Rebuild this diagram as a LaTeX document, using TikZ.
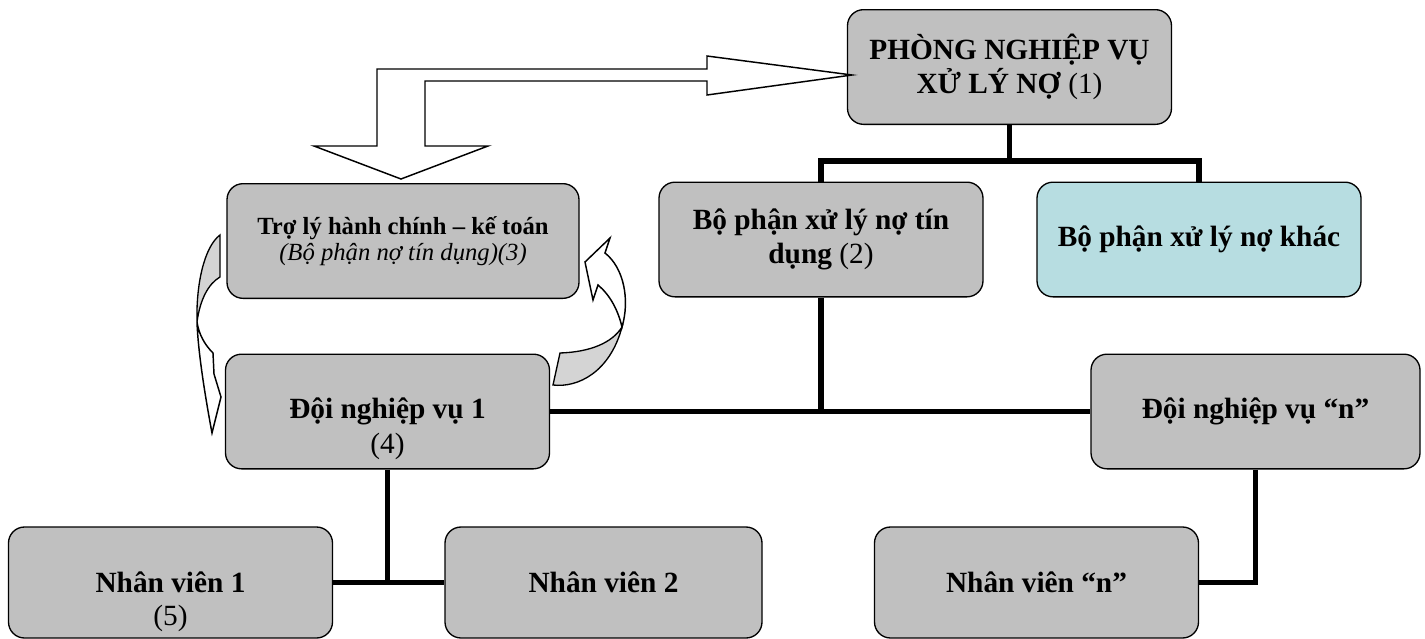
\documentclass[tikz,border=0pt]{standalone}
\usepackage{fontspec}
\setmainfont{Liberation Serif}
\usepackage{tikz}
\definecolor{boxgray}{RGB}{192,192,192}
\definecolor{khacblue}{RGB}{183,221,225}
\definecolor{foldgray}{RGB}{212,212,212}

\begin{document}
\begin{tikzpicture}[x=0.75pt, y=-0.75pt,
box/.style={draw=black, line width=1pt, fill=boxgray, rounded corners=12pt, minimum width=243pt, minimum height=86pt, inner sep=0pt, align=center, font=\bfseries\fontsize{22}{26}\selectfont},
link/.style={line width=4pt},
hollow/.style={draw=black, line width=1.1pt, fill=white, line join=miter},
fold/.style={draw=black, line width=1pt, fill=foldgray},
num/.style={font=\fontsize{22}{26}\selectfont}]

\useasboundingbox (0,0) rectangle (1425,639);

\node[box] (phong) at (1009.5,67) {PHÒNG NGHIỆP VỤ\\XỬ LÝ NỢ \textmd{(1)}};
\node[box] (bpTD) at (821,239.5) {Bộ phận xử lý nợ tín\\dụng \textmd{(2)}};
\node[box, fill=khacblue] (bpKhac) at (1199,239.5) {Bộ phận xử lý nợ khác};
\node[box, minimum width=264pt, font=\bfseries\fontsize{18.5}{20}\selectfont] (troLy) at (403,241) {Trợ lý hành chính – kế toán\\\textmd{\itshape (Bộ phận nợ tín dụng)(3)}};

\node[box] (doi1) at (387.5,411.5) {Đội nghiệp vụ 1};
\node[num] (doi1num) at (387.5,446) {(4)};
\node[box, minimum width=246.75pt] (doiN) at (1255.5,411.5) {Đội nghiệp vụ “n”};

\node[box, minimum height=83.25pt] (nv1) at (170.5,582.5) {Nhân viên 1};
\node[num] (nv1num) at (170.5,618) {(5)};
\node[box, minimum height=83.25pt, minimum width=237.75pt] (nv2) at (603.5,582.5) {Nhân viên 2};
\node[box, minimum height=83.25pt] (nvN) at (1036.5,582.5) {Nhân viên “n”};

% tree lines
\draw[link] (phong.south) -- ++(0,36) coordinate (split);
\draw[link] (bpTD.north) |- (split) -| (bpKhac.north);
\draw[link] (bpTD.south) -- (bpTD.south |- doi1.east);
\draw[link] (doi1.east) -- (doiN.west);
\draw[link] (doi1.south) -- (doi1.south |- nv1.east);
\draw[link] (nv1.east) -- (nv2.west);
\draw[link] (doiN.south) |- (nvN.east);

% block arrow
\draw[hollow] (852,75) -- (707,56) -- (707,69) -- (377,69) -- (377,146) -- (314,146) -- (401,179) -- (488,146) -- (425,146) -- (425,81) -- (707,81) -- (707,95) -- cycle;

% curved arrows
\draw[fold] (220,235) .. controls (204,247) and (196,285) .. (197,322) .. controls (200,300) and (208,284) .. (220,277) -- cycle;
\draw[hollow] (197,322) .. controls (198,350) and (204,390) .. (212,433) -- (221,397) -- (214,374) -- (213,353) .. controls (205,345) and (199,335) .. (197,322) -- cycle;

\draw[fold] (560,353) -- (553,385) .. controls (578,388) and (610,372) .. (622,327) .. controls (612,343) and (590,352) .. (560,353) -- cycle;
\draw[hollow] (622,327) .. controls (630,300) and (624,268) .. (605,253) -- (610,238) -- (585,262) -- (593,300) -- (598,285) .. controls (610,295) and (618,310) .. (622,327) -- cycle;

\end{tikzpicture}
\end{document}
